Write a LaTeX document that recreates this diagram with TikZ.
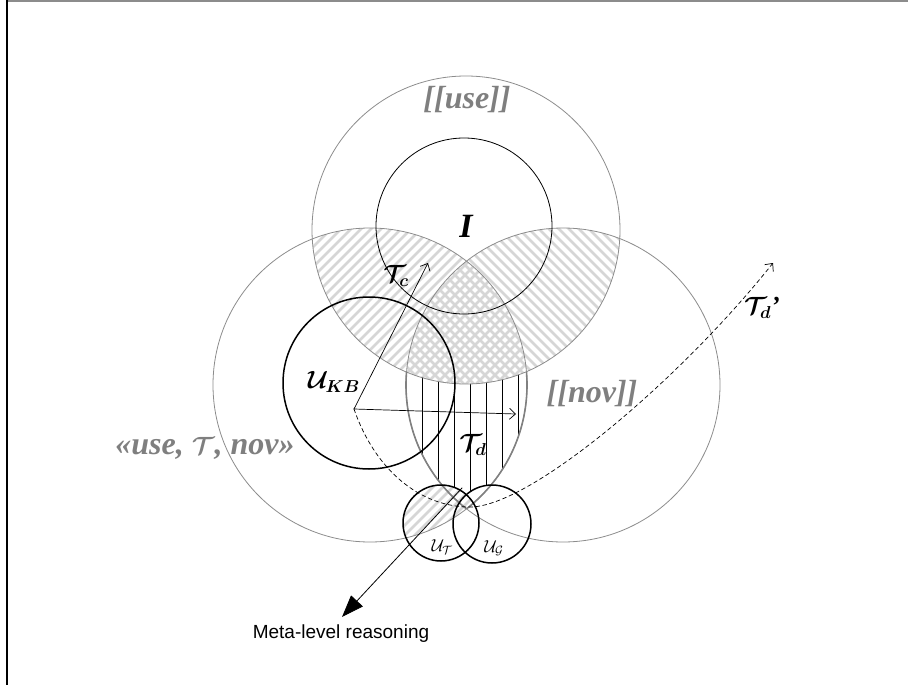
\documentclass[tikz,border=0pt]{standalone}
\usepackage{amsmath,amssymb}
\usepackage{fontspec}
\setmainfont{Liberation Serif}
\newfontfamily\metafont{Liberation Sans}
\usepackage{tikz}
\usetikzlibrary{arrows.meta}
\definecolor{setgray}{HTML}{8C8C8C}
\definecolor{lensgray}{HTML}{808080}
\definecolor{hatchgray}{HTML}{D6D6D6}
\definecolor{labelgray}{HTML}{7F7F7F}
\tikzset{
every picture/.style={line cap=round,line join=round},
frame top/.style={draw=black!45, line width=1.2pt},
frame left/.style={draw=black, line width=1.2pt},
set circle/.style={draw=setgray, line width=0.8pt},
lens edge/.style={draw=lensgray, line width=1.6pt},
info circle/.style={draw=black, line width=0.8pt},
agent circle/.style={draw=black, line width=1.5pt},
hatch line/.style={draw=hatchgray, line width=2.6pt, line cap=butt},
lens rule/.style={draw=black, line width=0.5pt},
flow/.style={draw=black, line width=0.7pt, -{Straight Barb[length=6pt,width=11pt]}},
flow dashed/.style={flow, dash pattern=on 4pt off 3pt},
meta flow/.style={draw=black, line width=0.8pt, -{Triangle[length=22pt,width=16pt]}},
set label/.style={font=\fontsize{32}{34}\selectfont\bfseries\itshape, text=labelgray, inner sep=0pt},
big label/.style={font=\fontsize{34}{36}\selectfont\bfseries\itshape, inner sep=0pt},
math label/.style={font=\fontsize{26}{28}\selectfont, inner sep=0pt},
small math label/.style={font=\fontsize{18}{20}\selectfont, inner sep=0pt},
meta label/.style={font=\fontsize{19}{21}\selectfont\metafont, inner sep=0pt}
}
% rising (/) and falling (\) hatch strokes
\newcommand\hatchrise{\foreach \s in {-300,-290,...,800} \draw[hatch line] (\s,700) -- ({\s+700},0);}
\newcommand\hatchfall{\foreach \s in {-300,-290,...,800} \draw[hatch line] (\s,0) -- ({\s+700},700);}

\begin{document}
\begin{tikzpicture}[x=1pt,y=-1pt]
\useasboundingbox (0,0) rectangle (908,685);
\draw[frame top] (7,1) -- (908,1);
\draw[frame left] (7,0) -- (7,685);

% centres of the sets
\coordinate (cuse) at (466,230);
\coordinate (cleft) at (370,385);
\coordinate (cright) at (563,385);
\coordinate (ci) at (464,226);
\coordinate (ckb) at (369,383);
\coordinate (cut) at (441,523);
\coordinate (cug) at (492,524);

% hatched overlaps with [[use]]
\begin{scope}
\clip (cuse) circle[radius=154];
\clip (cleft) circle[radius=157];
\hatchrise
\end{scope}
\begin{scope}
\clip (cuse) circle[radius=154];
\clip (cright) circle[radius=157];
\hatchfall
\end{scope}

% vertical rules in the lens below [[use]]
\begin{scope}
\clip (cleft) circle[radius=157];
\clip (cright) circle[radius=157];
\foreach \x in {422,438,...,518}
  \draw[lens rule] (\x,{230+154*sqrt(1-((\x-466)/154)^2)}) -- (\x,560);
\end{scope}
\fill[white] (cut) circle[radius=38] (cug) circle[radius=39];
\begin{scope}
\clip (cut) circle[radius=38];
\clip (cleft) circle[radius=157];
\hatchrise
\end{scope}

% set outlines
\draw[set circle] (cuse) circle[radius=154];
\draw[set circle] (cleft) circle[radius=157];
\draw[set circle] (cright) circle[radius=157];
\begin{scope}[even odd rule]
\clip (0,0) rectangle (908,685) (cuse) circle[radius=154];
\begin{scope}
\clip (cright) circle[radius=157];
\draw[lens edge] (cleft) circle[radius=157];
\end{scope}
\begin{scope}
\clip (cleft) circle[radius=157];
\draw[lens edge] (cright) circle[radius=157];
\end{scope}
\end{scope}
\draw[info circle] (ci) circle[radius=88];
\draw[agent circle] (ckb) circle[radius=86];
\draw[agent circle] (cut) circle[radius=38];
\draw[agent circle] (cug) circle[radius=39];

% trajectories
\coordinate (o) at (354,409);
\coordinate (tc) at (428,263);
\coordinate (td) at (516,414);
\coordinate (tdp) at (773,263);
\coordinate (mstart) at (462,488);
\coordinate (mend) at (342,617);
\draw[flow] (o) -- (tc);
\draw[flow] (o) -- (td);
\draw[flow dashed] (o) .. controls (375,470) and (420,507) .. (470,507)
  .. controls (530,507) and (680,380) .. (tdp);
\draw[meta flow] (mstart) -- (mend);

% labels
\node[set label] (uselab) at (467,100) {[[use]]};
\node[big label] (ilab) at (466,226) {I};
\node[set label] (novlab) at (592,394) {[[nov]]};
\node[set label] (tuplelab) at (205,448) {«use, $\boldsymbol{\mathcal{T}}$, nov»};
\node[math label] (tclab) at (396,276) {$\boldsymbol{\mathcal{T}_{c}}$};
\node[math label] (kblab) at (334,382) {$\boldsymbol{\mathcal{U}_{KB}}$};
\node[math label] (tdlab) at (473,445) {$\boldsymbol{\mathcal{T}_{d}}$};
\node[math label] (tdplab) at (762,308) {$\boldsymbol{\mathcal{T}_{d}}$\textbf{\textit{’}}};
\node[small math label] (utlab) at (442,547) {$\mathcal{U}_{\mathcal{T}}$};
\node[small math label] (uglab) at (494,548) {$\mathcal{U}_{\mathcal{G}}$};
\node[meta label] (metalab) at (341,634) {Meta-level reasoning};
\end{tikzpicture}
\end{document}
